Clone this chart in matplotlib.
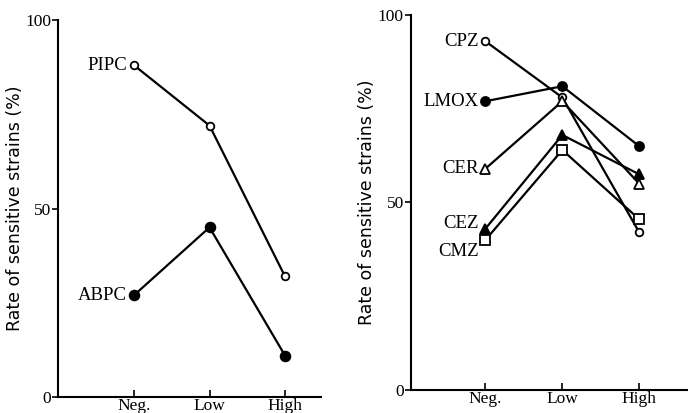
import matplotlib
matplotlib.use("Agg")
import matplotlib.pyplot as plt

# categories along x
groups = ["Neg.", "Low", "High"]

# left panel (penicillins)
pipc = [88, 72, 32]
abpc = [27, 45, 11]

# right panel (cephems)
cpz = [93, 78, 42]
lmox = [77, 81, 65]
cer = [59, 77, 55]
cez = [43, 68, 57.5]
cmz = [40, 64, 45.5]

serif = "Liberation Serif"
ylabel = "Rate of sensitive strains (%)"

fig = plt.figure(figsize=(6.88, 4.13), dpi=100)
ax1 = fig.add_axes([0.0843, 0.0387, 0.3823, 0.9128])
ax2 = fig.add_axes([0.597, 0.0557, 0.42, 0.908])

x = list(range(len(groups)))


def style(ax, xlim, label_x):
    ax.set_xlim(*xlim)
    ax.set_ylim(0, 100)
    for s in ("top", "right"):
        ax.spines[s].set_visible(False)
    for s in ("left", "bottom"):
        ax.spines[s].set_linewidth(1.5)
    ax.set_yticks([0, 50, 100])
    ax.set_xticks(x)
    ax.set_xticklabels(groups, family=serif, fontsize=12.5)
    ax.set_yticklabels(["0", "50", "100"], family=serif, fontsize=12.5)
    ax.tick_params(axis="x", direction="in", length=5, width=1.2, pad=1)
    ax.tick_params(axis="y", direction="out", length=4, width=1.2, pad=1)
    ax.set_ylabel(ylabel, family="DejaVu Sans", fontsize=12.5)
    ax.yaxis.set_label_coords(label_x, 0.5)


def series(ax, vals, name, marker, filled, ms, dy=0):
    ax.plot(x, vals, color="black", lw=1.6, marker=marker, ms=ms,
            mfc="black" if filled else "white", mec="black", mew=1.3,
            clip_on=False, zorder=3)
    ax.annotate(name, (x[0], vals[0]), xytext=(-5, dy), textcoords="offset points",
                ha="right", va="center", family=serif, fontsize=13.5)


series(ax1, pipc, "PIPC", "o", False, 5.5)
series(ax1, abpc, "ABPC", "o", True, 7)
style(ax1, (-1.007, 2.477), -0.13)

series(ax2, cpz, "CPZ", "o", False, 5.5)
series(ax2, lmox, "LMOX", "o", True, 6.5)
series(ax2, cer, "CER", "^", False, 6.5)
series(ax2, cez, "CEZ", "^", True, 6.5, dy=4)
series(ax2, cmz, "CMZ", "s", False, 6.5, dy=-8)
style(ax2, (-0.97, 2.785), -0.12)

fig.savefig("out.png", dpi=100)
